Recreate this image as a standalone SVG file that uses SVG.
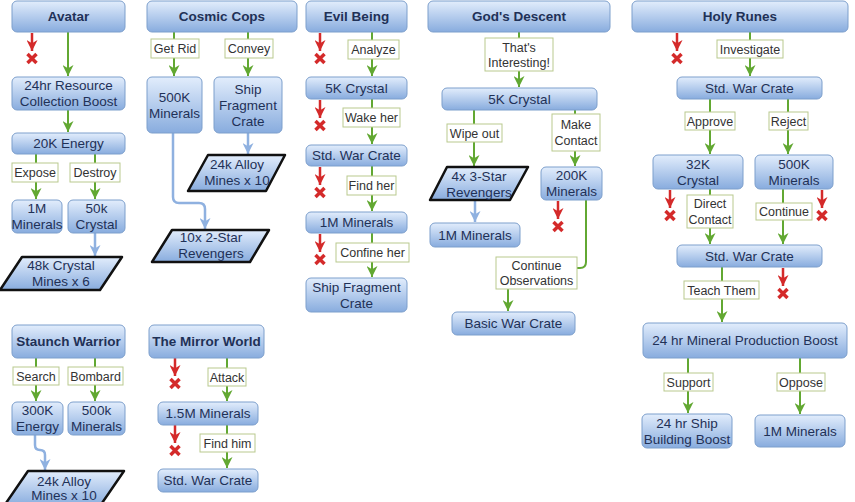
<svg xmlns="http://www.w3.org/2000/svg" xmlns:xlink="http://www.w3.org/1999/xlink" width="855" height="502" viewBox="0 0 855 502">
<style>
.n{fill:url(#gr);stroke:#7d9fcc;stroke-width:1}
.p{fill:url(#gr);stroke:#111;stroke-width:2.5;stroke-linejoin:round}
.l{fill:#fff;stroke:#b9c98e;stroke-width:1}
.t{font-family:"Liberation Sans",Arial,sans-serif;font-size:13.5px;fill:#1f3157;text-anchor:middle}
.tb{font-weight:bold}
.lt{font-family:"Liberation Sans",Arial,sans-serif;font-size:12.5px;fill:#333;text-anchor:middle}
.g{stroke:#62a832;stroke-width:2;fill:none;marker-end:url(#ag)}
.b{stroke:#8fb1e0;stroke-width:2.5;fill:none;marker-end:url(#ab)}
.r{stroke:#d42a2a;stroke-width:2.5;fill:none;marker-end:url(#ar)}
.x{stroke:#d42a2a;stroke-width:3.5;fill:none}
</style>
<defs>
<linearGradient id="gr" x1="0" y1="0" x2="0" y2="1">
<stop offset="0" stop-color="#e2edfc"/>
<stop offset="1" stop-color="#88acde"/>
</linearGradient>
<marker id="ag" viewBox="0 0 10 10" refX="10" refY="5" markerWidth="11" markerHeight="11" markerUnits="userSpaceOnUse" orient="auto"><path d="M0,0 L10,5 L0,10 L3,5 Z" fill="#62a832"/></marker>
<marker id="ab" viewBox="0 0 10 10" refX="10" refY="5" markerWidth="11" markerHeight="11" markerUnits="userSpaceOnUse" orient="auto"><path d="M0,0 L10,5 L0,10 L3,5 Z" fill="#8fb1e0"/></marker>
<marker id="ar" viewBox="0 0 10 10" refX="10" refY="5" markerWidth="11" markerHeight="11" markerUnits="userSpaceOnUse" orient="auto"><path d="M0,0 L10,5 L0,10 L3,5 Z" fill="#d42a2a"/></marker>
<g id="stop"><path class="r" d="M0,0 V18"/><path class="x" d="M-4.5,21 L4.5,30 M4.5,21 L-4.5,30"/></g>
</defs>

<g id="connectors">
<use xlink:href="#stop" href="#stop" x="32" y="33"/>
<path class="g" d="M68,32 V76"/>
<path class="g" d="M68,110 V132"/>
<path class="g" d="M36,154 V199"/>
<path class="g" d="M95,154 V199"/>
<path class="b" d="M95,233 V256"/>
<path class="g" d="M174,32 V76"/>
<path class="g" d="M248,32 V76"/>
<path class="b" d="M248,133 V154"/>
<path class="b" d="M173,133 V197 Q173,203 179,203 H199 Q205,203 205,209 V229"/>
<use xlink:href="#stop" href="#stop" x="320" y="33"/>
<use xlink:href="#stop" href="#stop" x="320" y="100"/>
<use xlink:href="#stop" href="#stop" x="320" y="167"/>
<use xlink:href="#stop" href="#stop" x="320" y="234"/>
<path class="g" d="M372,32 V76"/>
<path class="g" d="M372,99 V144"/>
<path class="g" d="M372,166 V211"/>
<path class="g" d="M372,233 V277"/>
<path class="g" d="M519,32 V87"/>
<path class="g" d="M474,110 V166"/>
<path class="g" d="M575,110 V166"/>
<path class="b" d="M475,200 V222"/>
<use xlink:href="#stop" href="#stop" x="558" y="201"/>
<path class="g" d="M586,200 V262 Q586,268 580,268 H514 Q508,268 508,274 V311"/>
<use xlink:href="#stop" href="#stop" x="677" y="33"/>
<path class="g" d="M750,32 V76"/>
<path class="g" d="M710,99 V154"/>
<path class="g" d="M788,99 V154"/>
<use xlink:href="#stop" href="#stop" x="670" y="190"/>
<use xlink:href="#stop" href="#stop" x="822" y="190"/>
<path class="g" d="M710,189 V244"/>
<path class="g" d="M783,189 V244"/>
<use xlink:href="#stop" href="#stop" x="783" y="268"/>
<path class="g" d="M722,267 V322"/>
<path class="g" d="M688,358 V413"/>
<path class="g" d="M800,358 V414"/>
<path class="g" d="M36,358 V401"/>
<path class="g" d="M95,358 V401"/>
<path class="b" d="M35,435 V445 Q35,450 40,450 Q45,450 45,455 V470"/>
<use xlink:href="#stop" href="#stop" x="175" y="358"/>
<use xlink:href="#stop" href="#stop" x="175" y="425"/>
<path class="g" d="M227,358 V401"/>
<path class="g" d="M227,425 V468"/>
</g>

<g id="edge-labels">
<rect class="l" x="12" y="163" width="46" height="19"/><text class="lt" x="35" y="177">Expose</text>
<rect class="l" x="70" y="163" width="50" height="19"/><text class="lt" x="95" y="177">Destroy</text>
<rect class="l" x="151" y="39" width="48" height="19"/><text class="lt" x="175" y="53">Get Rid</text>
<rect class="l" x="225" y="39" width="48" height="19"/><text class="lt" x="249" y="53">Convey</text>
<rect class="l" x="348" y="40" width="51" height="19"/><text class="lt" x="373.5" y="54">Analyze</text>
<rect class="l" x="343" y="108" width="57" height="19"/><text class="lt" x="371.5" y="122">Wake her</text>
<rect class="l" x="347" y="176" width="49" height="19"/><text class="lt" x="371.5" y="190">Find her</text>
<rect class="l" x="336" y="243" width="73" height="19"/><text class="lt" x="372.5" y="257">Confine her</text>
<rect class="l" x="485" y="38" width="68" height="33"/><text class="lt" x="519" y="51.5">That's</text><text class="lt" x="519" y="67">Interesting!</text>
<rect class="l" x="447" y="124" width="55" height="18"/><text class="lt" x="474.5" y="137.5">Wipe out</text>
<rect class="l" x="552" y="114" width="48" height="37"/><text class="lt" x="576" y="128.5">Make</text><text class="lt" x="576" y="145">Contact</text>
<rect class="l" x="496" y="257" width="81" height="32"/><text class="lt" x="536.5" y="269.5">Continue</text><text class="lt" x="536.5" y="285">Observations</text>
<rect class="l" x="717" y="40" width="66" height="18"/><text class="lt" x="750" y="53.5">Investigate</text>
<rect class="l" x="685" y="112" width="50" height="18"/><text class="lt" x="710" y="125.5">Approve</text>
<rect class="l" x="769" y="112" width="39" height="18"/><text class="lt" x="788.5" y="125.5">Reject</text>
<rect class="l" x="687" y="195" width="46" height="33"/><text class="lt" x="710" y="208">Direct</text><text class="lt" x="710" y="224">Contact</text>
<rect class="l" x="756" y="203" width="56" height="17"/><text class="lt" x="784" y="216">Continue</text>
<rect class="l" x="684" y="281" width="75" height="18"/><text class="lt" x="721.5" y="294.5">Teach Them</text>
<rect class="l" x="664" y="373" width="49" height="18"/><text class="lt" x="688.5" y="386.5">Support</text>
<rect class="l" x="777" y="373" width="48" height="18"/><text class="lt" x="801" y="386.5">Oppose</text>
<rect class="l" x="13" y="367" width="46" height="18"/><text class="lt" x="36" y="380.5">Search</text>
<rect class="l" x="68" y="367" width="55" height="18"/><text class="lt" x="95.5" y="380.5">Bombard</text>
<rect class="l" x="208" y="368" width="38" height="18"/><text class="lt" x="227" y="381.5">Attack</text>
<rect class="l" x="200" y="434" width="55" height="18"/><text class="lt" x="227.5" y="447.5">Find him</text>
</g>

<g id="av-title"><rect class="n" x="12" y="1" width="113" height="31" rx="5"/><text class="t tb" x="68.5" y="21">Avatar</text></g>
<g id="av-boost"><rect class="n" x="12" y="77" width="113" height="33" rx="5"/><text class="t" x="68.5" y="90">24hr Resource</text><text class="t" x="68.5" y="106">Collection Boost</text></g>
<g id="av-energy"><rect class="n" x="12" y="133" width="113" height="21" rx="5"/><text class="t" x="68.5" y="148">20K Energy</text></g>
<g id="av-1m"><rect class="n" x="12" y="200" width="50" height="33" rx="5"/><text class="t" x="37" y="213">1M</text><text class="t" x="37" y="229">Minerals</text></g>
<g id="av-50k"><rect class="n" x="68" y="200" width="57" height="33" rx="5"/><text class="t" x="96.5" y="213">50k</text><text class="t" x="96.5" y="229">Crystal</text></g>
<g id="av-mines"><polygon class="p" points="22,257 122,257 100,290 0,290"/><text class="t" x="61" y="270">48k Crystal</text><text class="t" x="61" y="286">Mines x 6</text></g>

<g id="cc-title"><rect class="n" x="147" y="1" width="150" height="31" rx="5"/><text class="t tb" x="222" y="21">Cosmic Cops</text></g>
<g id="cc-500k"><rect class="n" x="147" y="77" width="55" height="56" rx="5"/><text class="t" x="174.5" y="101.5">500K</text><text class="t" x="174.5" y="117.5">Minerals</text></g>
<g id="cc-ship"><rect class="n" x="214" y="77" width="68" height="56" rx="5"/><text class="t" x="248" y="93.5">Ship</text><text class="t" x="248" y="109.5">Fragment</text><text class="t" x="248" y="125.5">Crate</text></g>
<g id="cc-alloy"><polygon class="p" points="208,155 285,155 266,191 188,191"/><text class="t" x="237" y="169">24k Alloy</text><text class="t" x="237" y="185">Mines x 10</text></g>
<g id="cc-rev"><polygon class="p" points="172,230 269,230 250,262 152,262"/><text class="t" x="211" y="242">10x 2-Star</text><text class="t" x="211" y="258">Revengers</text></g>

<g id="eb-title"><rect class="n" x="306" y="1" width="101" height="31" rx="5"/><text class="t tb" x="356.5" y="21">Evil Being</text></g>
<g id="eb-5k"><rect class="n" x="306" y="77" width="101" height="22" rx="5"/><text class="t" x="356.5" y="92.5">5K Crystal</text></g>
<g id="eb-std"><rect class="n" x="306" y="145" width="101" height="21" rx="5"/><text class="t" x="356.5" y="160">Std. War Crate</text></g>
<g id="eb-1m"><rect class="n" x="306" y="212" width="101" height="21" rx="5"/><text class="t" x="356.5" y="227">1M Minerals</text></g>
<g id="eb-ship"><rect class="n" x="306" y="278" width="101" height="34" rx="5"/><text class="t" x="356.5" y="291.5">Ship Fragment</text><text class="t" x="356.5" y="307.5">Crate</text></g>

<g id="gd-title"><rect class="n" x="428" y="1" width="182" height="31" rx="5"/><text class="t tb" x="519" y="21">God's Descent</text></g>
<g id="gd-5k"><rect class="n" x="442" y="88" width="155" height="22" rx="5"/><text class="t" x="519.5" y="103.5">5K Crystal</text></g>
<g id="gd-rev"><polygon class="p" points="447,167 528,167 510,200 430,200"/><text class="t" x="479" y="180.5">4x 3-Star</text><text class="t" x="479" y="196.5">Revengers</text></g>
<g id="gd-1m"><rect class="n" x="430" y="223" width="90" height="24" rx="5"/><text class="t" x="475" y="239.5">1M Minerals</text></g>
<g id="gd-200k"><rect class="n" x="541" y="167" width="61" height="33" rx="5"/><text class="t" x="571.5" y="180">200K</text><text class="t" x="571.5" y="196">Minerals</text></g>
<g id="gd-basic"><rect class="n" x="452" y="312" width="123" height="23" rx="5"/><text class="t" x="513.5" y="328">Basic War Crate</text></g>

<g id="hr-title"><rect class="n" x="632" y="1" width="216" height="31" rx="5"/><text class="t tb" x="740" y="21">Holy Runes</text></g>
<g id="hr-std1"><rect class="n" x="677" y="77" width="145" height="22" rx="5"/><text class="t" x="749.5" y="92.5">Std. War Crate</text></g>
<g id="hr-32k"><rect class="n" x="653" y="155" width="90" height="34" rx="5"/><text class="t" x="698" y="168.5">32K</text><text class="t" x="698" y="184.5">Crystal</text></g>
<g id="hr-500k"><rect class="n" x="755" y="155" width="78" height="34" rx="5"/><text class="t" x="794" y="168.5">500K</text><text class="t" x="794" y="184.5">Minerals</text></g>
<g id="hr-std2"><rect class="n" x="677" y="245" width="145" height="22" rx="5"/><text class="t" x="749.5" y="260.5">Std. War Crate</text></g>
<g id="hr-boost"><rect class="n" x="643" y="323" width="204" height="35" rx="5"/><text class="t" x="745" y="345">24 hr Mineral Production Boost</text></g>
<g id="hr-ship"><rect class="n" x="642" y="414" width="90" height="34" rx="5"/><text class="t" x="687" y="427.5">24 hr Ship</text><text class="t" x="687" y="443.5">Building Boost</text></g>
<g id="hr-1m"><rect class="n" x="755" y="415" width="90" height="32" rx="5"/><text class="t" x="800" y="435.5">1M Minerals</text></g>

<g id="sw-title"><rect class="n" x="12" y="325" width="113" height="33" rx="5"/><text class="t tb" x="68.5" y="346">Staunch Warrior</text></g>
<g id="sw-300k"><rect class="n" x="12" y="402" width="51" height="33" rx="5"/><text class="t" x="37.5" y="415">300K</text><text class="t" x="37.5" y="431">Energy</text></g>
<g id="sw-500k"><rect class="n" x="68" y="402" width="57" height="33" rx="5"/><text class="t" x="96.5" y="415">500k</text><text class="t" x="96.5" y="431">Minerals</text></g>
<g id="sw-alloy"><polygon class="p" points="28,471 124,471 100,506 4,506"/><text class="t" x="64" y="485.5">24k Alloy</text><text class="t" x="64" y="499.5">Mines x 10</text></g>

<g id="mw-title"><rect class="n" x="149" y="325" width="115" height="33" rx="5"/><text class="t tb" x="206.5" y="346">The Mirror World</text></g>
<g id="mw-15m"><rect class="n" x="158" y="402" width="100" height="23" rx="5"/><text class="t" x="208" y="418">1.5M Minerals</text></g>
<g id="mw-std"><rect class="n" x="158" y="469" width="100" height="23" rx="5"/><text class="t" x="208" y="485">Std. War Crate</text></g>
</svg>
